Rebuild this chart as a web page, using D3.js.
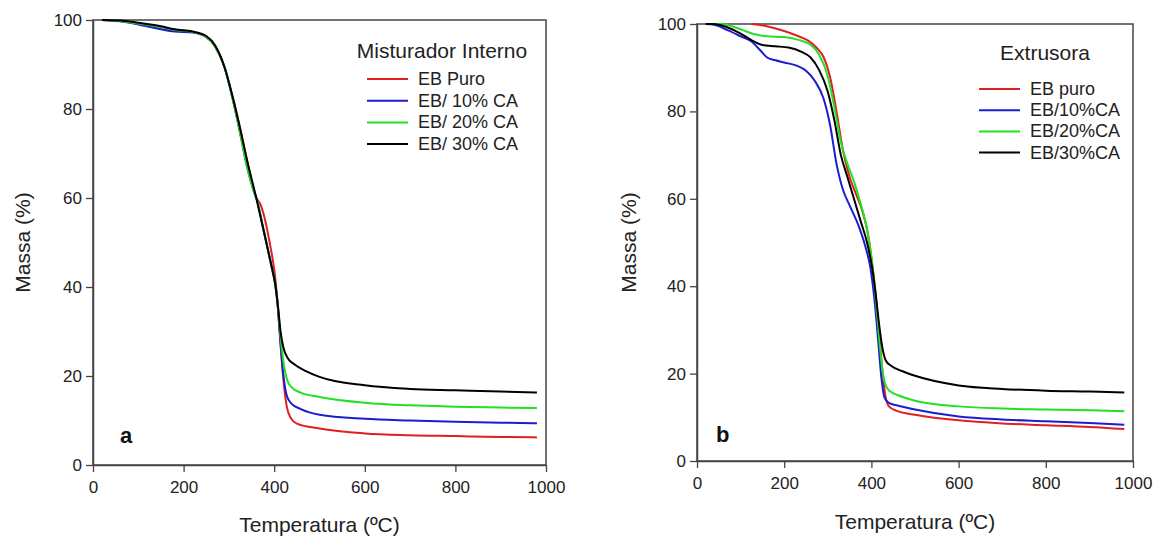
<!DOCTYPE html>
<html>
<head>
<meta charset="utf-8">
<script src="https://cdn.jsdelivr.net/npm/d3@7"></script>
<style>
  body { margin: 0; background: #fff; }
  svg { font-family: "Liberation Sans", Arial, sans-serif; }
</style>
</head>
<body>
<svg id="chart" width="1157" height="538"></svg>
<script>
// series names / colours
const seriesColors = ["#e02020", "#1c1cd0", "#22e022", "#000000"];
const namesA = ["EB Puro", "EB/ 10% CA", "EB/ 20% CA", "EB/ 30% CA"];
const namesB = ["EB puro", "EB/10%CA", "EB/20%CA", "EB/30%CA"];
const xTicks = [0, 200, 400, 600, 800, 1000];
const yTicks = [0, 20, 40, 60, 80, 100];

// (a) Misturador interno: [T, massa]
const aPuro = [[20,100],[60,99.8],[100,99.2],[150,98.4],[180,97.8],[220,97.3],[250,96.2],[270,94],[290,89.5],[310,82],[325,75.5],[340,68.5],[360,60.2],[370,58.5],[380,55],[390,50],[397,46],[403,41.5],[408,35.5],[414,27],[420,19.5],[428,13],[437,10.5],[450,9.3],[500,8.2],[600,7.1],[700,6.7],[800,6.5],[900,6.3],[980,6.2]];
const a10 = [[20,100],[60,99.7],[100,99],[150,97.9],[180,97.4],[220,97.2],[250,96.2],[270,94],[290,89.5],[310,81.5],[325,74.5],[340,67],[355,61.5],[362,59.5],[375,53.5],[388,47.5],[396,43.8],[402,40.8],[408,35.5],[414,27.5],[420,20.5],[428,15.5],[438,13.8],[460,12.5],[500,11.3],[600,10.4],[700,10],[800,9.7],[900,9.5],[980,9.4]];
const a20 = [[20,100],[60,99.8],[100,99.2],[150,98.4],[180,97.8],[220,97.3],[250,96.2],[270,94],[290,89.5],[310,81.5],[325,74.5],[340,67],[355,61.5],[362,59.5],[375,53.5],[388,47.5],[396,43.8],[402,40.8],[408,36],[414,29],[420,23.5],[428,19.3],[438,17.5],[460,16.2],[500,15.3],[600,14],[700,13.4],[800,13.1],[900,12.9],[980,12.8]];
const a30 = [[20,100],[60,99.9],[100,99.4],[150,98.6],[180,97.9],[220,97.4],[250,96.4],[270,94.2],[290,89.5],[310,82],[325,75.5],[340,68.5],[360,60.2],[375,53.5],[388,47.5],[396,43.8],[402,40.8],[408,36],[414,30],[420,26.5],[430,24],[445,22.6],[470,21.1],[500,19.8],[600,17.9],[700,17.1],[800,16.8],[900,16.5],[980,16.3]];

// (b) Extrusora
const bPuro = [[125,100],[160,99.5],[200,98.4],[230,97.3],[255,96.2],[275,94.5],[290,92.5],[305,88],[320,80],[335,71],[350,65],[365,61],[380,57],[392,52],[402,45],[410,38],[418,29],[425,21],[432,15],[440,12.5],[460,11.4],[500,10.6],[600,9.3],[700,8.6],[800,8.2],[900,7.8],[980,7.3]];
const b10 = [[20,100],[40,99.8],[70,98.6],[100,97.2],[125,96],[145,94],[160,92.4],[180,91.7],[200,91.2],[230,90.4],[250,89.3],[270,87],[290,83],[305,77],[320,68],[335,62],[350,58.5],[370,54],[385,49.5],[398,44],[408,36],[416,27],[423,19],[430,14.5],[440,13.3],[460,12.7],[500,11.8],[600,10.2],[700,9.5],[800,9.1],[900,8.7],[980,8.3]];
const b20 = [[20,100],[55,100],[80,99.5],[105,98.6],[130,97.7],[160,97.2],[200,97],[235,96.3],[260,95.3],[280,93],[300,88],[315,81],[330,73],[345,68],[360,64],[375,59],[390,53],[402,45],[410,37],[418,28],[425,21],[432,17.5],[442,16],[460,15.1],[500,13.8],[600,12.5],[700,12],[800,11.8],[900,11.6],[980,11.4]];
const b30 = [[20,100],[35,100],[55,99.7],[80,98.8],[100,97.8],[125,96.3],[150,95.2],[180,94.9],[210,94.6],[240,93.6],[260,92.4],[280,89.5],[300,84.5],[315,78],[330,70],[345,65],[360,60],[375,55],[390,50],[402,44],[410,38],[418,31],[425,26],[433,23],[445,21.8],[470,20.6],[500,19.5],[600,17.3],[700,16.5],[800,16.1],[900,15.9],[980,15.7]];

const svg = d3.select("#chart");

function panel(cfg) {
  const x = d3.scaleLinear().domain([0, 1000]).range(cfg.xr);
  const y = d3.scaleLinear().domain([0, 100]).range(cfg.yr);
  const g = svg.append("g");

  // frame
  g.append("rect")
    .attr("x", cfg.xr[0]).attr("y", cfg.yr[1])
    .attr("width", cfg.xr[1] - cfg.xr[0]).attr("height", cfg.yr[0] - cfg.yr[1])
    .attr("fill", "none").attr("stroke", "#444").attr("stroke-width", 1.5);

  const xAxis = d3.axisBottom(x).tickValues(xTicks).tickFormat(d3.format("d"))
    .tickSize(7).tickPadding(9).tickSizeOuter(0);
  const yAxis = d3.axisLeft(y).tickValues(yTicks).tickFormat(d3.format("d"))
    .tickSize(7).tickPadding(4).tickSizeOuter(0);

  const gx = g.append("g").attr("transform", "translate(0," + cfg.yr[0] + ")").call(xAxis);
  const gy = g.append("g").attr("transform", "translate(" + cfg.xr[0] + ",0)").call(yAxis);
  [gx, gy].forEach(function(a) {
    a.select(".domain").attr("stroke", "#444").attr("stroke-width", 1.5);
    a.selectAll(".tick line").attr("stroke", "#444").attr("stroke-width", 1.3);
    a.selectAll(".tick text").attr("font-size", 17).attr("fill", "#222")
      .attr("font-family", "Liberation Sans, Arial, sans-serif");
  });

  const line = d3.line()
    .x(function(d) { return x(d[0]); })
    .y(function(d) { return y(d[1]); })
    .curve(d3.curveMonotoneX);

  // drawing order: red, blue, green, black
  cfg.series.forEach(function(s, i) {
    g.append("path").datum(s)
      .attr("fill", "none")
      .attr("stroke", seriesColors[i])
      .attr("stroke-width", 2)
      .attr("stroke-linejoin", "round")
      .attr("d", line);
  });

  // axis titles
  g.append("text")
    .attr("x", (cfg.xr[0] + cfg.xr[1]) / 2).attr("y", cfg.xTitleY)
    .attr("text-anchor", "middle").attr("font-size", 21).attr("fill", "#222")
    .text("Temperatura (ºC)");
  g.append("text")
    .attr("transform", "translate(" + cfg.yTitleX + "," + ((cfg.yr[0] + cfg.yr[1]) / 2) + ") rotate(-90)")
    .attr("text-anchor", "middle").attr("font-size", 21).attr("fill", "#222")
    .text("Massa (%)");

  // legend
  g.append("text")
    .attr("x", cfg.leg.titleX).attr("y", cfg.leg.titleY)
    .attr("text-anchor", "middle").attr("font-size", 21).attr("fill", "#222")
    .text(cfg.leg.title);
  cfg.names.forEach(function(n, i) {
    const yy = cfg.leg.y0 + i * cfg.leg.dy;
    g.append("line")
      .attr("x1", cfg.leg.x0).attr("x2", cfg.leg.x0 + 41)
      .attr("y1", yy).attr("y2", yy)
      .attr("stroke", seriesColors[i]).attr("stroke-width", 2);
    g.append("text")
      .attr("x", cfg.leg.x0 + 51).attr("y", yy + 6)
      .attr("font-size", 18).attr("fill", "#222")
      .text(n);
  });

  // panel letter
  g.append("text")
    .attr("x", cfg.letter[0]).attr("y", cfg.letter[1])
    .attr("font-size", 22).attr("font-weight", "bold").attr("fill", "#111")
    .text(cfg.letterText);
}

panel({
  xr: [93, 546], yr: [465, 20],
  series: [aPuro, a10, a20, a30], names: namesA,
  xTitleY: 532, yTitleX: 30,
  leg: { title: "Misturador Interno", titleX: 442, titleY: 58, x0: 367, y0: 79, dy: 21.7 },
  letter: [120, 443], letterText: "a"
});

panel({
  xr: [697, 1133], yr: [461, 24],
  series: [bPuro, b10, b20, b30], names: namesB,
  xTitleY: 529, yTitleX: 636,
  leg: { title: "Extrusora", titleX: 1045, titleY: 60, x0: 979, y0: 89, dy: 21.2 },
  letter: [716, 442], letterText: "b"
});
</script>
</body>
</html>
